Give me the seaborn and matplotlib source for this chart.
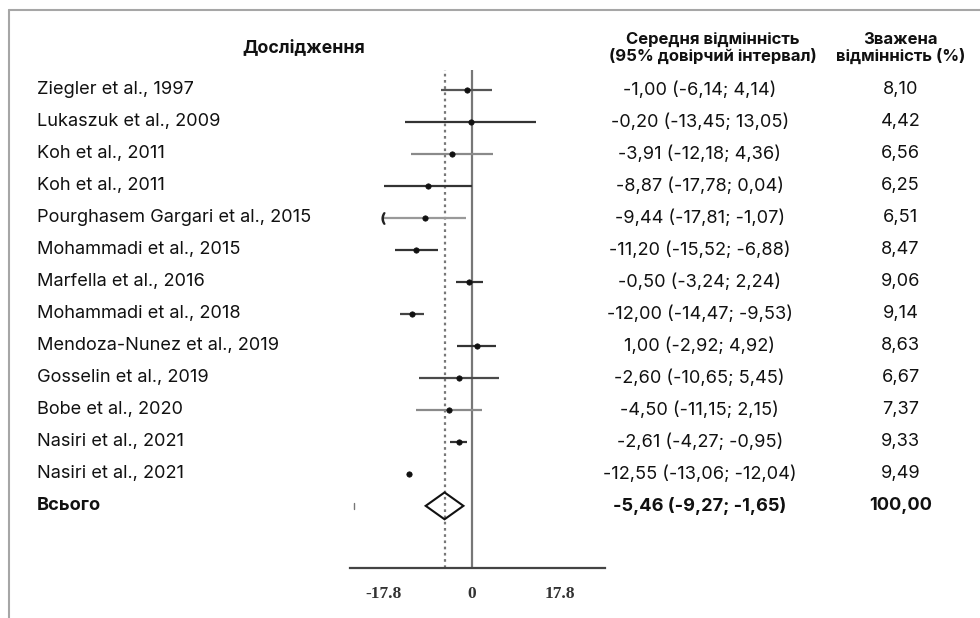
import numpy as np
import pandas as pd
import matplotlib.pyplot as plt
import matplotlib.transforms as mtransforms
from matplotlib.lines import Line2D
from matplotlib.patches import Polygon
import seaborn as sns

# --- DATA ---
studies = ["Ziegler et al., 1997", "Lukaszuk et al., 2009", "Koh et al., 2011",
           "Koh et al., 2011", "Pourghasem Gargari et al., 2015", "Mohammadi et al., 2015",
           "Marfella et al., 2016", "Mohammadi et al., 2018", "Mendoza-Nunez et al., 2019",
           "Gosselin et al., 2019", "Bobe et al., 2020", "Nasiri et al., 2021",
           "Nasiri et al., 2021"]
mean_diff = [-1.00, -0.20, -3.91, -8.87, -9.44, -11.20, -0.50, -12.00, 1.00, -2.60, -4.50, -2.61, -12.55]
ci_low = [-6.14, -13.45, -12.18, -17.78, -17.81, -15.52, -3.24, -14.47, -2.92, -10.65, -11.15, -4.27, -13.06]
ci_high = [4.14, 13.05, 4.36, 0.04, -1.07, -6.88, 2.24, -9.53, 4.92, 5.45, 2.15, -0.95, -12.04]
weights = [8.10, 4.42, 6.56, 6.25, 6.51, 8.47, 9.06, 9.14, 8.63, 6.67, 7.37, 9.33, 9.49]

total_label = "Всього"
total_mean = -5.46
total_low = -9.27
total_high = -1.65
total_weight = 100.00

x_ticks = [-17.8, 0, 17.8]

# line colours per row (the scan renders some CIs lighter)
line_colors = ["#555555", "#333333", "#8a8a8a", "#333333", "#999999", "#333333", "#333333",
               "#444444", "#333333", "#4a4a4a", "#8a8a8a", "#333333", "#333333"]

def fmt(v):
    return f"{v:.2f}".replace(".", ",")

df = pd.DataFrame({"study": studies, "md": mean_diff, "lo": ci_low, "hi": ci_high, "w": weights})
df["row"] = np.arange(len(df))
total_row = len(df)

# --- PLOT ---
sns.set_theme(style="white")
plt.rcParams["font.family"] = ["Inter", "DejaVu Sans"]

FS = 13.1
fig = plt.figure(figsize=(9.8, 6.18), dpi=100)
ax = fig.add_axes([0.357, 0.081, 0.260, 0.806])

ax.axvline(0, color="#777777", lw=1.6, zorder=1)
ax.axvline(total_mean, color="#777777", lw=1.6, ls=(0, (1.2, 1.6)), zorder=1)

ax.hlines(df["row"], df["lo"], df["hi"], colors=line_colors, lw=1.6, zorder=2)
sns.scatterplot(data=df, x="md", y="row", marker="o", s=15, color="#111111",
                edgecolor="#111111", linewidth=0.5, ax=ax, zorder=3, legend=False)

# left-truncated interval marker
ax.plot([ci_low[4]], [4], marker="$($", ms=8, color="#222222", zorder=3)

dia = Polygon([[total_low, total_row], [total_mean, total_row - 0.42],
               [total_high, total_row], [total_mean, total_row + 0.42]],
              closed=True, fill=False, edgecolor="#111111", lw=1.5, zorder=3)
ax.add_patch(dia)
ax.plot([-23.8, -23.8], [total_row - 0.1, total_row + 0.1], color="#777777", lw=1)

ax.set_xlim(-24.6, 26.9)
ax.set_ylim(14.94, -0.625)
ax.set_yticks([])
ax.set_xticks(x_ticks)
ax.set_xticklabels(["-17.8", "0", "17.8"], family="Liberation Serif", fontsize=12.5,
                   weight="bold", color="#333333")
ax.tick_params(axis="x", direction="out", length=6, width=1.3, color="#333333", pad=7)
ax.set_xlabel("")
ax.set_ylabel("")
for side in ["top", "left", "right"]:
    ax.spines[side].set_visible(False)
ax.spines["bottom"].set_color("#444444")
ax.spines["bottom"].set_linewidth(1.6)
ax.set_facecolor("none")

# text columns
X_NAME, X_MD, X_W = 0.038, 0.714, 0.919
tr = mtransforms.blended_transform_factory(fig.transFigure, ax.transData)
for i, r in df.iterrows():
    ax.text(X_NAME, r["row"], r["study"], transform=tr, ha="left", va="center",
            fontsize=FS, color="#111111", clip_on=False)
    ax.text(X_MD, r["row"], f"{fmt(r['md'])} ({fmt(r['lo'])}; {fmt(r['hi'])})", transform=tr,
            ha="center", va="center", fontsize=FS, color="#111111", clip_on=False)
    ax.text(X_W, r["row"], fmt(r["w"]), transform=tr, ha="center", va="center",
            fontsize=FS, color="#111111", clip_on=False)

ax.text(X_NAME, total_row, total_label, transform=tr, ha="left", va="center",
        fontsize=FS, weight="bold", color="#111111", clip_on=False)
ax.text(X_MD, total_row, f"{fmt(total_mean)} ({fmt(total_low)}; {fmt(total_high)})",
        transform=tr, ha="center", va="center", fontsize=FS, weight="bold",
        color="#111111", clip_on=False)
ax.text(X_W, total_row, fmt(total_weight), transform=tr, ha="center", va="center",
        fontsize=FS, weight="bold", color="#111111", clip_on=False)

# headers
HS = 12
fig.text(0.310, 1 - 48 / 618, "Дослідження", ha="center", va="center",
         fontsize=12.8, weight="bold", color="#111111")
fig.text(0.727, 1 - 48 / 618, "Середня відмінність\n(95% довірчий інтервал)", ha="center",
         va="center", multialignment="center", fontsize=HS, weight="bold",
         color="#111111", linespacing=1.1)
fig.text(0.919, 1 - 48 / 618, "Зважена\nвідмінність (%)", ha="center", va="center",
         multialignment="center", fontsize=HS, weight="bold", color="#111111", linespacing=1.1)

# frame lines
fig.add_artist(Line2D([9 / 980, 1], [1 - 10 / 618, 1 - 10 / 618], color="#a6a6a6", lw=1.5))
fig.add_artist(Line2D([9 / 980, 9 / 980], [0, 1 - 10 / 618], color="#a6a6a6", lw=1.5))

fig.savefig("out.png", dpi=100)
